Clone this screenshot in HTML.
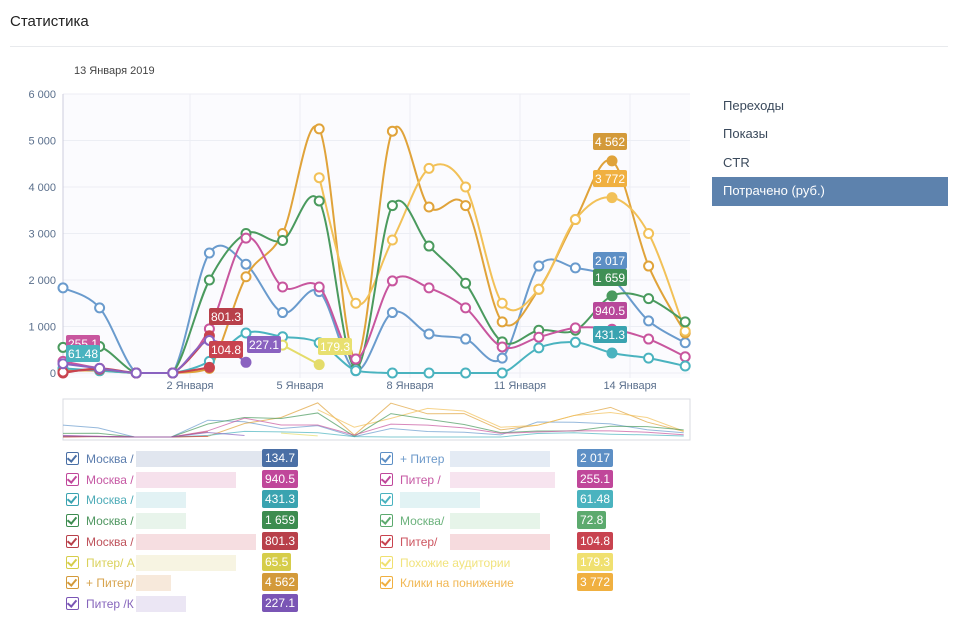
<!DOCTYPE html>
<html><head><meta charset="utf-8">
<style>
body{margin:0;width:960px;height:633px;background:#fff;font-family:"Liberation Sans",sans-serif;position:relative;overflow:hidden}
.a{position:absolute;white-space:nowrap}
.menu{font-size:13px;color:#3b4a5c;left:723px}
.leg{font-size:12px;position:absolute;white-space:nowrap}
.cb{position:absolute;width:11px;height:11px;border:1.5px solid;border-radius:2px}
.cb:after{content:"";position:absolute;left:2px;top:0px;width:4px;height:7px;border:solid;border-width:0 2px 2px 0;border-color:inherit;transform:rotate(40deg)}
.bd{position:absolute;color:#fff;font-size:12px;height:18px;line-height:18px;padding:0 3px;border-radius:2px;font-family:"Liberation Sans",sans-serif}
.bl{position:absolute;height:16px;opacity:.35}
</style></head><body>
<div class="a" style="left:10px;top:13px;font-size:15px;color:#222">Статистика</div>
<div class="a" style="left:10px;top:46px;width:938px;height:1px;background:#e8eaed"></div>
<div class="a" style="left:74px;top:65px;font-size:11px;color:#444">13 Января 2019</div>
<div class="a menu" style="top:98px">Переходы</div>
<div class="a menu" style="top:126px">Показы</div>
<div class="a menu" style="top:155px">CTR</div>
<div class="a" style="left:712px;top:177px;width:236px;height:29px;background:#5d82ad"></div>
<div class="a menu" style="top:183px;color:#fff">Потрачено (руб.)</div>
<svg id="ch" class="a" style="left:0;top:0" width="960" height="633"></svg>
<div id="lg"></div>
<script>
var X=[];for(var i=0;i<18;i++)X.push(63+i*36.6);
function Y(v){return 373-v*46.5}
var S=[
{c:'#6a9bcd',d:[1.83,1.4,0,0,2.58,2.34,1.3,1.75,0.05,1.3,0.84,0.73,0.32,2.3,2.26,2.017,1.12,0.65],f:15},
{c:'#e0a33a',d:[0.05,0.05,0,0,0.1,2.07,3.0,5.25,0.3,5.2,3.57,3.6,1.1,1.8,3.3,4.562,2.3,0.86],f:15},
{c:'#f2c158',d:[null,null,null,null,null,null,null,4.2,1.5,2.86,4.4,4.0,1.5,1.8,3.3,3.772,3.0,0.9],f:15},
{c:'#4a9a5e',d:[0.55,0.57,0,0,2.0,3.0,2.85,3.7,0.1,3.6,2.73,1.93,0.67,0.92,0.92,1.659,1.6,1.1],f:15},
{c:'#c8569e',d:[0.25,0.1,0,0,0.95,2.9,1.85,1.85,0.3,1.98,1.83,1.4,0.56,0.77,0.97,0.94,0.73,0.35],f:15},
{c:'#4ab3bf',d:[0.1,0.05,0,0,0.25,0.86,0.78,0.65,0.05,0,0,0,0,0.54,0.66,0.43,0.32,0.15],f:15},
{c:'#c8434f',d:[0,0.1,0,0,0.8],f:4},
{c:'#c8434f',d:[0.02,0.08,0,0,0.12],f:4},
{c:'#8a62c0',d:[0.2,0.1,0,0,0.7,0.23],f:5},
{c:'#e4dc6a',d:[null,null,null,null,null,null,0.6,0.18],f:7}
];
function cl(y){return Math.min(y,373)}
function path(pts){var s='M'+pts[0][0]+','+pts[0][1];for(var i=0;i<pts.length-1;i++){var p0=pts[i-1]||pts[i],p1=pts[i],p2=pts[i+1],p3=pts[i+2]||p2;var t=6;s+=' C'+(p1[0]+(p2[0]-p0[0])/t)+','+cl(p1[1]+(p2[1]-p0[1])/t)+' '+(p2[0]-(p3[0]-p1[0])/t)+','+cl(p2[1]-(p3[1]-p1[1])/t)+' '+p2[0]+','+p2[1];}return s}
var h='<rect x="63" y="94" width="627" height="284" fill="#fbfbfe"/>';
for(var k=0;k<=6;k++)h+='<line x1="63" x2="690" y1="'+Y(k)+'" y2="'+Y(k)+'" stroke="#eceef4"/><text x="56" y="'+(Y(k)+4)+'" text-anchor="end" font-size="11" fill="#5a6f8c">'+(k?k+' 000':'0')+'</text>';
var lab=['2 Января','5 Января','8 Января','11 Января','14 Января'];
for(k=0;k<5;k++){var gx=190+k*110;h+='<line x1="'+gx+'" x2="'+gx+'" y1="94" y2="378" stroke="#eceef4"/><text x="'+gx+'" y="389" text-anchor="middle" font-size="11" fill="#5a6f8c">'+lab[k]+'</text>';}
h+='<line x1="63" x2="63" y1="94" y2="378" stroke="#ccd"/>';
h+='<rect x="63" y="399" width="627" height="41" fill="#fff" stroke="#d8dbe2"/>';
S.forEach(function(s){var pts=[],mp=[];s.d.forEach(function(v,i){if(v!==null){pts.push([X[i],Y(v)]);mp.push((i?X[i]-1.5:X[i])+','+(437-v*6.5))}});
h+='<path d="'+path(pts)+'" fill="none" stroke="'+s.c+'" stroke-width="2"/>';
h+='<polyline points="'+mp.join(' ')+'" fill="none" stroke="'+s.c+'" stroke-width="1" opacity=".7"/>';
s.d.forEach(function(v,i){if(v===null)return;var last=(i==s.f);h+='<circle cx="'+X[i]+'" cy="'+Y(v)+'" r="4.5" fill="'+(last?s.c:'#fff')+'" stroke="'+s.c+'" stroke-width="2"/>';});});
var B=[['255.1','#c8569e',66,335],['61.48','#4ab3bf',66,345],['801.3','#b8404a',209,308],['104.8','#c8434f',209,341],['227.1','#8a62c0',247,336],['179.3','#e8e070',318,338],['4 562','#d39a3a',593,133],['3 772','#f0b040',593,170],['2 017','#5d8fc5',593,252],['1 659','#3f8f55',593,269],['940.5','#b8489a',593,302],['431.3','#3aa3b0',593,326]];
B.forEach(function(b){h+='<rect x="'+b[2]+'" y="'+b[3]+'" width="34" height="17" rx="2" fill="'+b[1]+'"/><text x="'+(b[2]+17)+'" y="'+(b[3]+13)+'" text-anchor="middle" font-size="12" fill="#fff">'+b[0]+'</text>';});
document.getElementById('ch').innerHTML=h;
var L=[
['Москва /','#4a6fa5','134.7',130,'#d4dbe8'],['Москва /','#c0479a','940.5',100,'#f2d4e4'],['Москва /','#3aa3b0','431.3',50,'#d6ecef'],['Москва /','#3d8c50','1 659',50,'#deefe2'],['Москва /','#b8404a','801.3',120,'#f2d0d4'],['Питер/ А','#d6cd4a','65.5',100,'#f4f0d6'],['+ Питер/','#d39a3a','4 562',35,'#f4e0cc'],['Питер /К','#7a55b5','227.1',50,'#e2dbf0']];
var R=[
['+ Питер','#5d8fc5','2 017',100,'#d8e2ef'],['Питер /','#c0479a','255.1',105,'#f4d8e8'],['','#4ab3bf','61.48',80,'#d6eef0'],['Москва/','#5caa6e','72.8',90,'#dcefe0'],['Питер/','#c8434f','104.8',100,'#f2ccd0'],['Похожие аудитории','#f0e070','179.3',0,''],['Клики на понижение','#f0b040','3 772',0,'']];
var g='';
function row(it,x,bx,y,bc){g+='<div class="cb" style="left:'+x+'px;top:'+(y-6)+'px;border-color:'+it[1]+'"></div>';g+='<div class="leg" style="left:'+(x+20)+'px;top:'+(y-6)+'px;color:'+it[1]+';opacity:.9">'+it[0]+'</div>';
if(it[3])g+='<div class="bl" style="left:'+(x+(it[0].length?70:20))+'px;top:'+(y-7)+'px;width:'+it[3]+'px;background:'+it[4]+';opacity:.7"></div>';
g+='<div class="bd" style="left:'+bx+'px;top:'+(y-9)+'px;background:'+(bc||it[1])+'">'+it[2]+'</div>';}
L.forEach(function(it,i){row(it,66,262,458+i*20.7)});
R.forEach(function(it,i){row(it,380,577,458+i*20.7)});
document.getElementById('lg').innerHTML=g;
</script>
</body></html>
